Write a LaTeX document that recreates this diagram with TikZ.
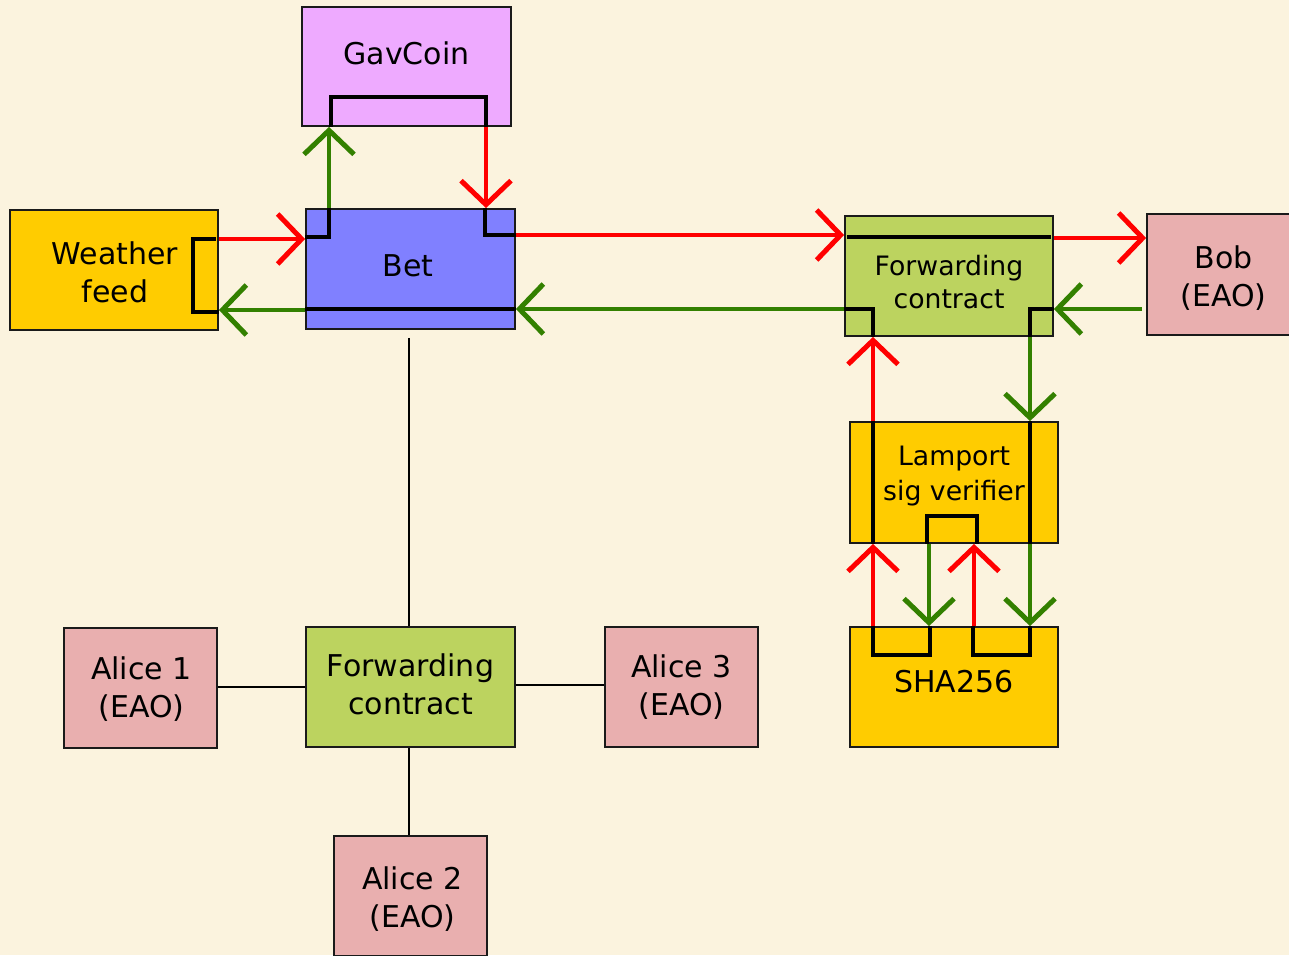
\documentclass[tikz,border=0pt]{standalone}
\usepackage{fontspec}
\setmainfont{DejaVu Sans}
\usetikzlibrary{arrows.meta}
\definecolor{bgc}{RGB}{251,243,222}
\definecolor{gavc}{RGB}{238,170,255}
\definecolor{betc}{RGB}{128,128,255}
\definecolor{yelc}{RGB}{255,204,0}
\definecolor{fwdc}{RGB}{188,211,95}
\definecolor{eaoc}{RGB}{233,175,175}
\definecolor{grn}{RGB}{51,128,0}
\definecolor{boxline}{RGB}{26,26,26}
\begin{document}
\begin{tikzpicture}[x=1pt,y=-1pt,
  box/.style={draw=boxline, line width=1.8pt, inner sep=0pt, minimum width=208pt, minimum height=120pt},
  eao/.style={box, fill=eaoc, minimum width=153pt},
  lbl/.style={font=\fontsize{30}{38}\selectfont, align=center, inner sep=0pt, text=black},
  slbl/.style={lbl, font=\fontsize{26.7}{33}\selectfont},
  wire/.style={draw=black, line width=3.5pt},
  link/.style={draw=black, line width=2pt},
  ra/.style={draw=red, line width=4pt, -{Straight Barb[length=24pt,width=50pt,line width=5pt]}},
  ga/.style={draw=grn, line width=4pt, -{Straight Barb[length=24pt,width=50pt,line width=5pt]}}]
\useasboundingbox (0,0) rectangle (1289,955);
\fill[bgc] (0,0) rectangle (1289,955);

% boxes
\node[box, fill=gavc, minimum width=209pt, minimum height=119pt, label={[lbl,yshift=13pt]center:GavCoin}] (gav) at (406.5,66.5) {};
\node[box, fill=betc, minimum width=209pt, label={[lbl,yshift=3pt,xshift=-2.5pt]center:Bet}] (bet) at (410.5,269) {};
\node[box, fill=yelc, label={[lbl,yshift=-2pt,xshift=1pt]center:Weather\\feed}] (wf) at (114,270) {};
\node[box, fill=fwdc, label={[slbl,yshift=-6.4pt]center:Forwarding\\contract}] (fcr) at (949,276) {};
\node[eao, minimum height=121pt, label={[lbl,yshift=-4pt]center:Bob\\(EAO)}] (bob) at (1223.5,274.5) {};
\node[box, fill=yelc, minimum height=121pt, label={[slbl,font=\fontsize{26.7}{35.7}\selectfont,yshift=6.5pt]center:Lamport\\sig verifier}] (lam) at (954,482.5) {};
\node[box, fill=yelc, label={[lbl,yshift=5pt]center:SHA256}] (sha) at (954,687) {};
\node[box, fill=fwdc, minimum width=209pt, label={[lbl,yshift=2.5pt]center:Forwarding\\contract}] (fcl) at (410.5,687) {};
\node[eao, label={[lbl,yshift=-1pt,xshift=1pt]center:Alice 1\\(EAO)}] (a1) at (140.5,688) {};
\node[eao, label={[lbl]center:Alice 3\\(EAO)}] (a3) at (681.5,687) {};
\node[eao, label={[lbl,yshift=-3pt,xshift=2pt]center:Alice 2\\(EAO)}] (a2) at (410.5,896) {};

% plain links
\draw[link] ([yshift=-8pt]bet.south -| 409,0) -- (fcl.north -| 409,0);
\draw[link] (a1.east |- 0,687) -- (fcl.west |- 0,687);
\draw[link] (fcl.east |- 0,685) -- (a3.west |- 0,685);
\draw[link] (fcl.south -| 409,0) -- (a2.north -| 409,0);

% weather feed
\draw[wire] ([xshift=-3pt]wf.east |- 0,239) -| ([xshift=-26pt]wf.east |- 0,312) -- (wf.east |- 0,312);
\draw[ra] (wf.east |- 0,239) -- (bet.west |- 0,239);
% bet -> gavcoin
\draw[wire] (bet.west |- 0,237) -| (bet.north -| 329,0);
\draw[ga] (bet.north -| 329,0) -- (gav.south -| 329,0);
\draw[wire] (gav.south -| 331,0) |- ([yshift=30pt]gav.south -| 486,0) -- (gav.south -| 486,0);
\draw[ra] (gav.south -| 486,0) -- (bet.north -| 486,0);
\draw[wire] (bet.north -| 485,0) |- ([yshift=-27pt]bet.north -| bet.east);
\draw[ra] (bet.east |- 0,235) -- (fcr.west |- 0,235);
% forwarding contract right
\draw[wire] ([xshift=3pt]fcr.west |- 0,237) -- ([xshift=-3pt]fcr.east |- 0,237);
\draw[ra] (fcr.east |- 0,238) -- (bob.west |- 0,238);
\draw[ga] ([xshift=-4pt]bob.west |- 0,309) -- (fcr.east |- 0,309);
\draw[wire] (fcr.east |- 0,309) -| (fcr.south -| 1030,0);
\draw[ga] (fcr.south -| 1030,0) -- (lam.north -| 1030,0);
\draw[wire] (lam.north -| 1030,0) -- (lam.south -| 1030,0);
\draw[ga] (lam.south -| 1030,0) -- (sha.north -| 1030,0);
\draw[wire] (sha.north -| 1030,0) |- ([yshift=-29pt]sha.north -| 973,0) -- (sha.north -| 973,0);
\draw[ra] (sha.north -| 974,0) -- (lam.south -| 974,0);
\draw[wire] (lam.south -| 977,0) |- ([yshift=28pt]lam.south -| 927,0) -- (lam.south -| 927,0);
\draw[ga] (lam.south -| 929,0) -- (sha.north -| 929,0);
\draw[wire] (sha.north -| 930,0) |- ([yshift=-29pt]sha.north -| 873,0) -- (sha.north -| 873,0);
\draw[ra] (sha.north -| 873,0) -- (lam.south -| 873,0);
\draw[wire] (lam.south -| 873,0) -- (lam.north -| 873,0);
\draw[ra] (lam.north -| 873,0) -- (fcr.south -| 873,0);
\draw[wire] (fcr.south -| 873,0) |- (fcr.west |- 0,309);
\draw[ga] (fcr.west |- 0,309) -- (bet.east |- 0,309);
\draw[wire] (bet.east |- 0,309) -- (bet.west |- 0,309);
\draw[ga] (bet.west |- 0,310) -- (wf.east |- 0,310);
\end{tikzpicture}
\end{document}
